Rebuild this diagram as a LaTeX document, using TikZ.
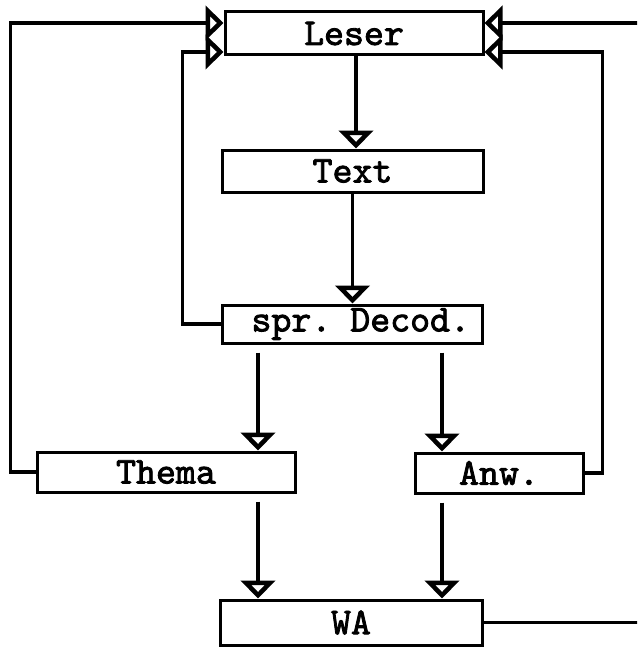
\documentclass[tikz,border=0pt]{standalone}
\usepackage{fontspec}
\newfontfamily\lbfont{lmmono10-regular.otf}[FakeBold=2.2]
\usetikzlibrary{arrows.meta}

\begin{document}
\begin{tikzpicture}[x=0.5pt, y=-0.5pt,
    blk/.style={draw, line width=1.5pt, inner sep=0pt, minimum height=20pt,
                font=\lbfont\fontsize{19}{22}\selectfont},
    flow/.style={-{Triangle[open, length=9pt, width=17pt, line width=1.2pt 1.6]}, line width=1.8pt},
    gap/.style={shorten <=4pt}]
  \useasboundingbox (0,0) rectangle (637,647);
  \clip (0,0) rectangle (637,647);
  \node[blk, minimum width=129pt, minimum height=21.5pt] (leser) at (354,33.5)  {Leser};
  \node[blk, minimum width=130.5pt, minimum height=21pt] (text)  at (352.5,171) {Text};
  \node[blk, minimum width=130pt, minimum height=19pt, text width=118pt, align=right]
                                                         (decod) at (352,324)   {spr. Decod.};
  \node[blk, minimum width=129pt]                        (thema) at (166,472)   {Thema};
  \node[blk, minimum width=84pt]                         (anw)   at (499,473)   {Anw.};
  \node[blk, minimum width=131pt, minimum height=22.5pt] (wa)    at (351,622.5) {WA};
  \coordinate (rim) at (650,0);
  % main chain
  \draw[flow] ([xshift=1pt]leser.south) -- ([xshift=1pt]leser.south |- text.north);
  \draw[flow] (text.south) -- (text.south |- decod.north);
  \draw[flow, gap] ([xshift=-47pt]decod.south) -- ([xshift=-47pt]decod.south |- thema.north);
  \draw[flow, gap] ([xshift=45pt]decod.south) -- ([xshift=45pt]decod.south |- anw.north);
  \draw[flow, gap] ([xshift=46pt]thema.south) -- ([xshift=46pt]thema.south |- wa.north);
  \draw[flow, gap] ([xshift=-28.5pt]anw.south) -- ([xshift=-28.5pt]anw.south |- wa.north);
  % feedback loops
  \draw[flow] (decod.west) -- ++(-38,0) |- ([yshift=-9.25pt]leser.west);
  \draw[flow] (thema.west) -- ++(-25,0) |- ([yshift=5.25pt]leser.west);
  \draw[flow] (anw.east) -- ++(18,0) |- ([yshift=-9.25pt]leser.east);
  \draw[flow] (wa.east) -- (wa.east -| rim) |- ([yshift=5.25pt]leser.east);
\end{tikzpicture}
\end{document}
